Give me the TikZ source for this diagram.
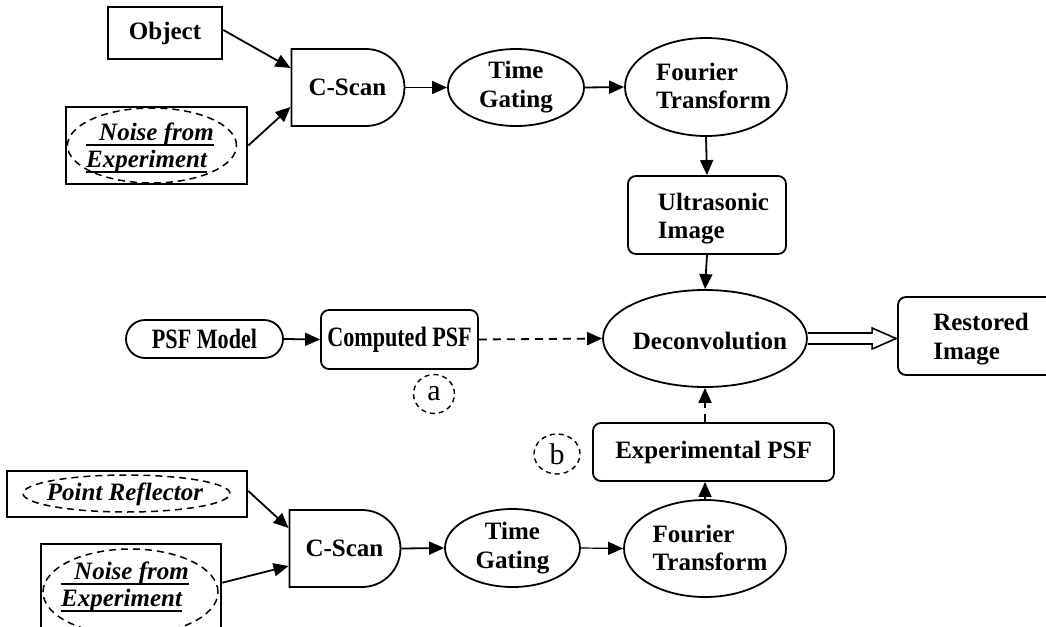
\documentclass[tikz,border=0pt]{standalone}
\usepackage{fontspec}
\setmainfont{Liberation Serif}
\usetikzlibrary{shapes.geometric,shapes.misc,arrows.meta,calc}
\newcommand\myul[1]{\setbox0\hbox{#1}\rlap{\rule[-5.4pt]{\wd0}{1.8pt}}\box0}
\begin{document}
\begin{tikzpicture}[x=1pt,y=-1pt,
  every node/.style={font=\fontsize{25}{29}\selectfont\bfseries, inner sep=0pt},
  sqbox/.style={draw, rectangle, line width=2.6pt},
  rbox/.style={draw, rectangle, rounded corners=8pt, line width=1.8pt},
  ell/.style={draw, ellipse, line width=1.8pt},
  dell/.style={draw, ellipse, line width=1.5pt, dash pattern=on 7pt off 5pt},
  dcirc/.style={draw, ellipse, line width=1.4pt, dash pattern=on 5pt off 4pt, font=\fontsize{30}{32}\selectfont},
  csh/.style={draw, rounded rectangle, rounded rectangle left arc=none, line width=1.8pt},
  stad/.style={draw, rounded rectangle, line width=1.8pt},
  arr/.style={line width=1.8pt, -{Triangle[length=15pt,width=13pt]}},
  thinarr/.style={line width=1.2pt, -{Triangle[length=15pt,width=13pt]}},
  darr/.style={arr, dash pattern=on 8pt off 6pt},
  itx/.style={font=\fontsize{25}{27}\selectfont\bfseries\itshape, align=left},
  condtxt/.style={font=\fontsize{28}{30}\selectfont\bfseries},
]
\useasboundingbox[fill=white] (0,0) rectangle (1046,626);

% ---- top row ----
\node[sqbox, minimum width=114pt, minimum height=52pt] (obj) at (165,33) {Object};
\node[sqbox, minimum width=181pt, minimum height=77pt] (noise1) at (156.5,145.5) {};
\node[dell, minimum width=169pt, minimum height=75pt] (ne1) at (152,145.5) {};
\node[itx] (nt1) at (150,148) {\myul{\hspace*{13pt}Noise from}\\\myul{Experiment}};

\node[csh, minimum width=113pt, minimum height=77pt] (cs1) at (347.5,87.5) {C-Scan};
\node[ell, minimum width=136pt, minimum height=77pt, align=center] (tg1) at (516,87.5) {Time\\Gating};
\node[ell, minimum width=162pt, minimum height=98pt] (ft1) at (706,87) {};
\node[align=left, font=\fontsize{25}{28}\selectfont\bfseries] (ft1t) at (713.5,86) {Fourier\\Transform};

\node[rbox, minimum width=158pt, minimum height=78pt] (us) at (707,215) {};
\node[align=left, font=\fontsize{25}{28}\selectfont\bfseries] (ust) at (713.5,219) {Ultrasonic\\Image};

% ---- middle row ----
\node[stad, minimum width=157pt, minimum height=38pt, condtxt] (psf) at (204.5,339) {\scalebox{0.79}[1]{PSF Model}};
\node[rbox, minimum width=157pt, minimum height=59pt, condtxt] (comp) at (399.5,339.5) {\scalebox{0.79}[1]{Computed PSF}};
\node[dcirc, minimum width=41pt, minimum height=39pt] (ca) at (434,394) {a};
\node[ell, minimum width=204pt, minimum height=97pt] (dec) at (705,338.5) {};
\node (dect) at (710,341) {Deconvolution};
\node[rbox, minimum width=170pt, minimum height=78pt] (rest) at (983,336) {};
\node[align=left] (restt) at (981,339) {Restored\\Image};

\node[rbox, minimum width=241pt, minimum height=58pt] (exp) at (713.5,452) {Experimental PSF};
\node[dcirc, minimum width=46pt, minimum height=40pt] (cb) at (557,454) {b};

% ---- bottom row ----
\node[sqbox, minimum width=240pt, minimum height=46pt] (pr) at (127,494) {};
\node[dell, minimum width=207pt, minimum height=37pt] (pre) at (126.5,493.5) {};
\node[itx] (prt) at (125,494) {Point Reflector};
\node[sqbox, minimum width=180pt, minimum height=116pt] (noise2) at (131,602) {};
\node[dell, minimum width=175pt, minimum height=86pt] (ne2) at (130.5,592) {};
\node[itx] (nt2) at (125,587) {\myul{\hspace*{13pt}Noise from}\\\myul{Experiment}};

\node[csh, minimum width=111pt, minimum height=77pt] (cs2) at (344.5,548.5) {C-Scan};
\node[ell, minimum width=135pt, minimum height=78pt, align=center] (tg2) at (512.5,548) {Time\\Gating};
\node[ell, minimum width=162pt, minimum height=97pt] (ft2) at (705,548.5) {};
\node[align=left, font=\fontsize{25}{28}\selectfont\bfseries] (ft2t) at (710,547.5) {Fourier\\Transform};

% ---- connectors ----
\draw[arr] ($(obj.east)+(0,-3)$) -- ($(cs1.west)+(0,-19.5)$);
\draw[arr] (noise1.east) -- ($(cs1.west)+(0,19.5)$);
\draw[arr] (cs1.east) -- (tg1.west);
\draw[arr] (tg1.east) -- (ft1.west);
\draw[arr] (ft1.south) -- (us.north);
\draw[arr] (us.south) -- (dec.north);
\draw[arr] (psf.east) -- (comp.west);
\draw[darr] (comp.east) -- (dec.west);
\draw[darr] (exp.north -| dec.south) -- (dec.south);
\draw[arr] (ft2.north) -- (ft2.north |- exp.south);
\draw[arr] ($(pr.east)+(0,-3)$) -- ($(cs2.west)+(0,-20.5)$);
\draw[arr] ($(noise2.north east)+(0,40)$) -- ($(cs2.west)+(0,17.5)$);
\draw[arr] (cs2.east) -- (tg2.west);
\draw[thinarr] (tg2.east) -- (ft2.west);

% hollow block arrow
\coordinate (ha) at (dec.east);
\coordinate (hb) at (dec.east -| rest.west);
\draw[line width=1.6pt, line join=miter, fill=white]
  ($(ha)+(0,-5.5)$) -- ($(hb)+(-25,-5.5)$) -- ($(hb)+(-25,-10.5)$) -- ($(hb)+(-1,0)$)
  -- ($(hb)+(-25,10.5)$) -- ($(hb)+(-25,5.5)$) -- ($(ha)+(0,5.5)$);
\end{tikzpicture}
\end{document}
